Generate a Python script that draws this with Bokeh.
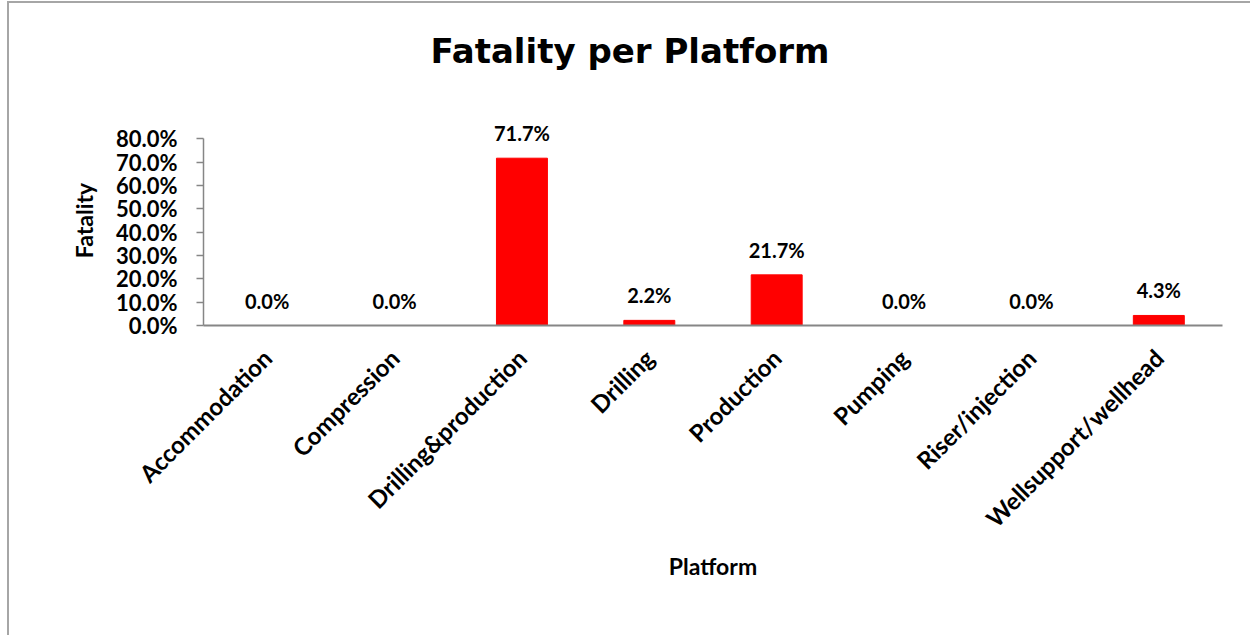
from bokeh.plotting import figure
from bokeh.models import ColumnDataSource, FactorRange, Range1d, NumeralTickFormatter, FixedTicker, LabelSet
from bokeh.core.properties import value
from bokeh.embed import file_html
from bokeh.resources import INLINE
import math

categories = ["Accommodation", "Compression", "Drilling&production", "Drilling",
              "Production", "Pumping", "Riser/injection", "Wellsupport/wellhead"]
fatality = [0.0, 0.0, 0.717, 0.022, 0.217, 0.0, 0.0, 0.043]
y_ticks = [0.0, 0.1, 0.2, 0.3, 0.4, 0.5, 0.6, 0.7, 0.8]

labels = [f"{v * 100:.1f}%" for v in fatality]
src = ColumnDataSource(dict(cat=categories, val=fatality, lab=labels))

FONT = "Lato"
AXIS_COLOR = "#868686"

p = figure(width=1243, height=634, x_range=FactorRange(*categories, range_padding=0),
           y_range=Range1d(0, 0.9), output_backend="svg", toolbar_location=None,
           min_border_left=194, min_border_right=30, min_border_top=112, min_border_bottom=312)
p.styles = {"border-top": "2px solid #a6a6a6", "border-left": "2px solid #a6a6a6",
            "margin-left": "7px", "margin-top": "1px"}

p.vbar(x="cat", top="val", width=0.4, source=src, fill_color="#ff0000", line_color="#ff0000")

p.add_layout(LabelSet(x="cat", y="val", text="lab", source=src, y_offset=25,
                      text_align="center", text_baseline="middle",
                      text_font=value(FONT), text_font_style="bold", text_font_size="20px",
                      text_color="#000000"))

p.title.text = "Fatality per Platform"
p.title.align = "left"
p.title.vertical_align = "top"
p.title.text_font = "DejaVu Sans"
p.title.text_font_style = "bold"
p.title.text_font_size = "34px"
p.title.text_color = "#000000"
p.title.offset = 227
p.title.standoff = 0
p.title.padding = dict(left=0, right=0, top=0, bottom=43)

p.grid.visible = False
p.outline_line_color = None
p.background_fill_color = "white"
p.border_fill_color = "white"

ya = p.yaxis[0]
ya.ticker = FixedTicker(ticks=y_ticks)
ya.bounds = (0, 0.8)
ya.formatter = NumeralTickFormatter(format="0.0%")
ya.axis_label = "Fatality"
ya.axis_label_text_font = FONT
ya.axis_label_text_font_style = "bold"
ya.axis_label_text_font_size = "23px"
ya.axis_label_text_color = "#000000"
ya.axis_label_standoff = 15
ya.major_label_text_font = FONT
ya.major_label_text_font_style = "bold"
ya.major_label_text_font_size = "22px"
ya.major_label_text_color = "#000000"
ya.major_label_standoff = 19
ya.major_tick_in = 0
ya.major_tick_out = 7
ya.minor_tick_in = 0
ya.minor_tick_out = 0
ya.axis_line_color = AXIS_COLOR
ya.major_tick_line_color = AXIS_COLOR
ya.axis_line_width = 1.5
ya.major_tick_line_width = 1.5

xa = p.xaxis[0]
xa.axis_label = "Platform"
xa.axis_label_text_font = FONT
xa.axis_label_text_font_style = "bold"
xa.axis_label_text_font_size = "23px"
xa.axis_label_text_color = "#000000"
xa.axis_label_standoff = 6
xa.major_label_orientation = math.pi / 4
xa.major_label_text_font = FONT
xa.major_label_text_font_style = "bold"
xa.major_label_text_font_size = "24px"
xa.major_label_text_color = "#000000"
xa.major_label_standoff = 28
xa.major_tick_in = 0
xa.major_tick_out = 0
xa.axis_line_color = AXIS_COLOR
xa.axis_line_width = 2

open("out.html", "w").write(file_html(p, INLINE))
